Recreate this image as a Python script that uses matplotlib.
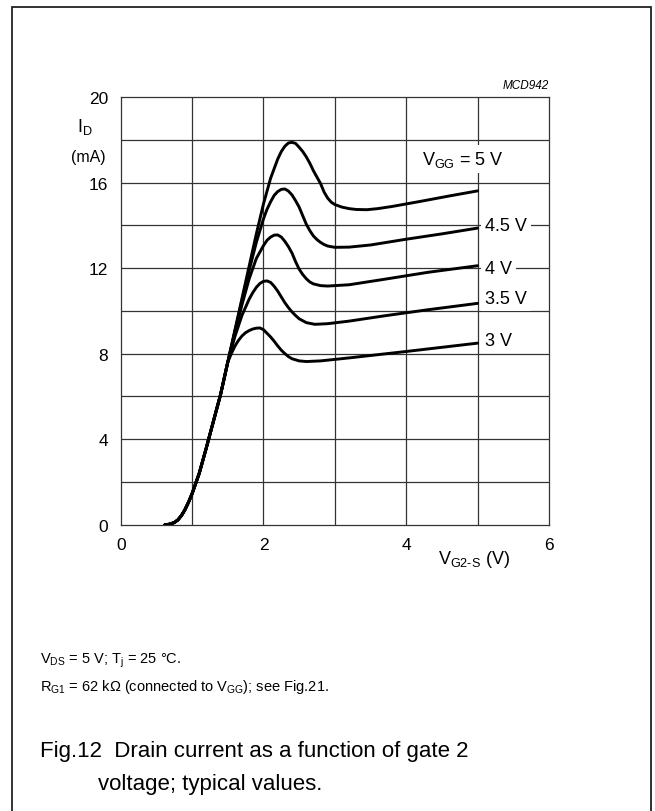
import matplotlib
matplotlib.use("Agg")
import matplotlib.pyplot as plt
from matplotlib.patches import Rectangle

plt.rcParams["font.family"] = ["Liberation Sans", "DejaVu Sans"]
plt.rcParams["mathtext.fontset"] = "custom"
plt.rcParams["mathtext.rm"] = "Liberation Sans"
plt.rcParams["mathtext.it"] = "Liberation Sans:italic"
plt.rcParams["mathtext.default"] = "regular"

# ── Data ─────────────────────────────────────────────────────────────────────
# common foot of all curves, V_G2-S (V) / I_D (mA)
vg_base = [0.62, 0.68, 0.75, 0.8, 0.85, 0.9, 0.95, 1.0, 1.1, 1.2, 1.3, 1.4, 1.5]
id_base = [0.0, 0.02, 0.1, 0.22, 0.42, 0.7, 1.05, 1.45, 2.4, 3.6, 4.85, 6.1, 7.6]

vg_5v = vg_base + [1.6, 1.7, 1.8, 1.9, 2.0, 2.1, 2.2, 2.25, 2.3, 2.35, 2.4, 2.45,
                   2.5, 2.55, 2.6, 2.65, 2.7, 2.75, 2.8, 2.85, 2.9, 2.95, 3.0,
                   3.1, 3.2, 3.3, 3.45, 3.6, 3.8, 4.2, 4.6, 5.0]
id_5v = id_base + [9.1, 10.6, 12.1, 13.6, 15.0, 16.2, 17.1, 17.45, 17.7, 17.85,
                   17.88, 17.83, 17.65, 17.45, 17.2, 16.9, 16.55, 16.25, 15.95,
                   15.55, 15.27, 15.08, 14.97, 14.85, 14.78, 14.74, 14.73, 14.78,
                   14.88, 15.12, 15.37, 15.61]

vg_45v = vg_base + [1.6, 1.7, 1.8, 1.9, 2.0, 2.05, 2.1, 2.15, 2.2, 2.25, 2.3,
                    2.35, 2.4, 2.45, 2.5, 2.55, 2.6, 2.65, 2.7, 2.75, 2.8, 2.85,
                    2.9, 3.0, 3.2, 3.5, 4.0, 4.5, 5.0]
id_45v = id_base + [9.05, 10.5, 11.9, 13.2, 14.3, 14.75, 15.1, 15.4, 15.58, 15.68,
                    15.7, 15.6, 15.42, 15.15, 14.85, 14.45, 14.05, 13.75, 13.5,
                    13.33, 13.2, 13.1, 13.03, 12.97, 12.98, 13.08, 13.35, 13.6,
                    13.87]

vg_4v = vg_base + [1.6, 1.7, 1.8, 1.9, 2.0, 2.05, 2.1, 2.15, 2.2, 2.25, 2.3, 2.35,
                   2.4, 2.45, 2.5, 2.55, 2.6, 2.65, 2.7, 2.8, 2.9, 3.2, 3.7, 4.3,
                   5.0]
id_4v = id_base + [9.0, 10.3, 11.5, 12.45, 13.05, 13.3, 13.45, 13.54, 13.55, 13.45,
                   13.25, 13.0, 12.7, 12.3, 11.95, 11.7, 11.5, 11.35, 11.26, 11.18,
                   11.16, 11.22, 11.48, 11.8, 12.11]

vg_35v = vg_base + [1.6, 1.7, 1.8, 1.85, 1.9, 1.95, 2.0, 2.05, 2.1, 2.15, 2.2, 2.25,
                    2.3, 2.35, 2.4, 2.45, 2.5, 2.6, 2.72, 2.9, 3.2, 3.7, 4.3, 5.0]
id_35v = id_base + [8.8, 9.8, 10.55, 10.85, 11.1, 11.28, 11.38, 11.4, 11.33, 11.15,
                    10.92, 10.65, 10.38, 10.15, 9.95, 9.78, 9.63, 9.45, 9.37, 9.4,
                    9.52, 9.77, 10.05, 10.35]

vg_3v = vg_base + [1.55, 1.6, 1.65, 1.7, 1.75, 1.8, 1.85, 1.9, 1.95, 2.0, 2.05,
                   2.1, 2.15, 2.2, 2.25, 2.3, 2.35, 2.4, 2.5, 2.6, 2.8, 3.2, 4.0,
                   5.0]
id_3v = id_base + [8.0, 8.35, 8.62, 8.83, 8.98, 9.08, 9.15, 9.19, 9.2, 9.12, 8.95,
                   8.78, 8.58, 8.36, 8.16, 8.0, 7.86, 7.76, 7.66, 7.63, 7.66, 7.8,
                   8.1, 8.49]

curves = [(vg_5v, id_5v), (vg_45v, id_45v), (vg_4v, id_4v),
          (vg_35v, id_35v), (vg_3v, id_3v)]
curve_labels = [r"V$_{GG}$ = 5 V", "4.5 V", "4 V", "3.5 V", "3 V"]
label_pos = [(4.22, 17.1), (5.1, 14.0), (5.1, 12.0), (5.1, 10.6), (5.1, 8.6)]

x_ticks = [0, 2, 4, 6]
y_ticks = [0, 4, 8, 12, 16, 20]

# ── Figure ───────────────────────────────────────────────────────────────────
W, H = 655, 812
fig = plt.figure(figsize=(W / 100, H / 100), dpi=100)
fig.patch.set_facecolor("white")

# outer frame (bottom edge runs off the page)
fig.add_artist(Rectangle((12 / W, -0.05), 639 / W, 1.05 - 8 / H,
                         transform=fig.transFigure, fill=False,
                         edgecolor="#222222", linewidth=1.3))

ax = fig.add_axes([120.7 / W, 1 - 525.7 / H, 428.3 / W, 427.7 / H])
ax.set_xlim(0, 6)
ax.set_ylim(0, 20)

# grid: 1 V by 2 mA
for xv in range(1, 6):
    ax.axvline(xv, color="#333333", linewidth=0.9, zorder=1)
for yv in range(2, 20, 2):
    ax.axhline(yv, color="#333333", linewidth=0.9, zorder=1)
for spine in ax.spines.values():
    spine.set_edgecolor("#333333")
    spine.set_linewidth(0.9)

for vg, idd in curves:
    ax.plot(vg, idd, color="black", linewidth=2.1, zorder=3,
            solid_capstyle="round", solid_joinstyle="round")

for text, (lx, ly) in zip(curve_labels, label_pos):
    ax.text(lx, ly, text, ha="left", va="center", fontsize=13, zorder=4,
            bbox=dict(facecolor="white", edgecolor="none", pad=3))

ax.set_xticks(x_ticks)
ax.set_yticks(y_ticks)
ax.set_xticklabels([str(v) for v in x_ticks], fontsize=12.5)
ax.set_yticklabels([str(v) for v in y_ticks], fontsize=12.5)
ax.tick_params(length=0, pad=9)

# axis titles
ax.text(-0.5, 18.65, r"I$_D$", fontsize=13, ha="center", va="center",
        clip_on=False)
ax.text(-0.45, 17.2, "(mA)", fontsize=11.5, ha="center", va="center",
        clip_on=False)
ax.text(4.45, -1.6, r"V$_{G2\text{-}S}$ (V)", fontsize=13, ha="left",
        va="center", clip_on=False)
ax.text(6.0, 20.3, "MCD942", fontsize=8.5, style="italic", ha="right",
        va="bottom", clip_on=False)

# notes and caption
fig.text(40 / W, 1 - 661 / H, r"V$_{DS}$ = 5 V; T$_j$ = 25 °C.",
         fontsize=10.5, ha="left", va="center")
fig.text(40 / W, 1 - 687 / H,
         r"R$_{G1}$ = 62 kΩ (connected to V$_{GG}$); see Fig.21.",
         fontsize=10.5, ha="left", va="center")
fig.text(40 / W, 1 - 752 / H, "Fig.12  Drain current as a function of gate 2",
         fontsize=16, ha="left", va="center")
fig.text(98 / W, 1 - 785 / H, "voltage; typical values.",
         fontsize=16, ha="left", va="center")

fig.savefig("out.png", dpi=100)
